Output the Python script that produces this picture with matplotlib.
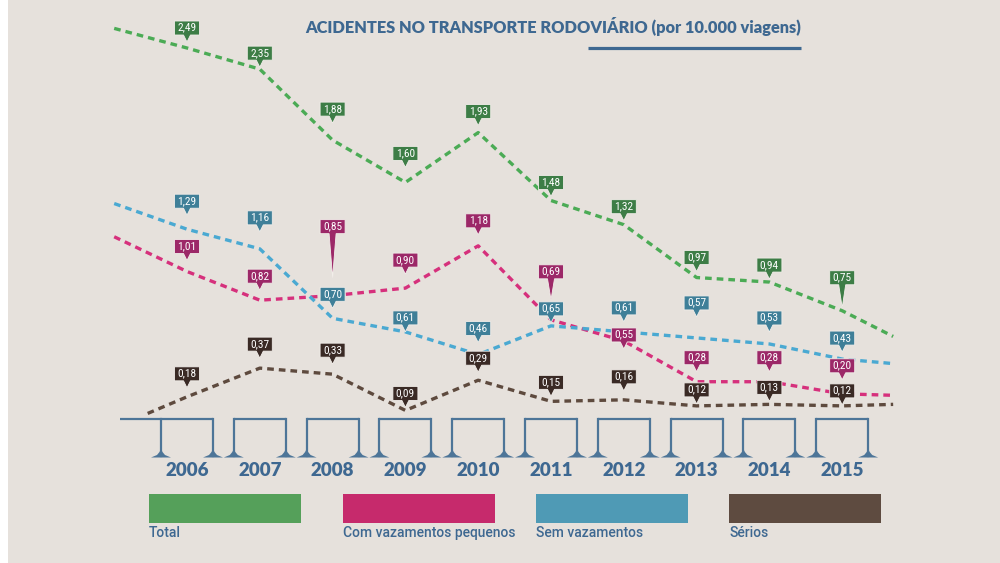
import matplotlib
matplotlib.use("Agg")
import matplotlib.pyplot as plt
from matplotlib import font_manager
from matplotlib.patches import Polygon, Rectangle
import matplotlib.transforms as mtransforms

# ---------------- data ----------------
years = [2006, 2007, 2008, 2009, 2010, 2011, 2012, 2013, 2014, 2015]
total = [2.49, 2.35, 1.88, 1.60, 1.93, 1.48, 1.32, 0.97, 0.94, 0.75]
com_vazamentos = [1.01, 0.82, 0.85, 0.90, 1.18, 0.69, 0.55, 0.28, 0.28, 0.20]
sem_vazamentos = [1.29, 1.16, 0.70, 0.61, 0.46, 0.65, 0.61, 0.57, 0.53, 0.43]
serios = [0.18, 0.37, 0.33, 0.09, 0.29, 0.15, 0.16, 0.12, 0.13, 0.12]
# decorative lead-in / lead-out values of the dashed lines
lead_in = [2.62, 1.24, 1.46, 0.07]
lead_out = [0.58, 0.19, 0.40, 0.13]
series_names = ["Total", "Com vazamentos pequenos", "Sem vazamentos", "Sérios"]
title = "ACIDENTES NO TRANSPORTE RODOVIÁRIO (por 10.000 viagens)"

# ---------------- style ----------------
def pick(*names):
    avail = {f.name for f in font_manager.fontManager.ttflist}
    for n in names:
        if n in avail:
            return n
    return "DejaVu Sans"

F_BOLD = pick("Lato", "Open Sans", "Roboto")
F_NARROW = pick("Liberation Sans Narrow", "Roboto Condensed", "Roboto", "Lato")
F_LEG = pick("Roboto", "Lato", "Open Sans")

BG = "#e6e1dc"
TXT = "#3e6891"
AXC = "#4d7598"
line_cols = ["#4bab55", "#d6307c", "#4aa9d2", "#5e4a3e"]
box_cols = ["#3d7d46", "#9c2868", "#3f7f98", "#3a2a25"]
leg_cols = ["#55a05a", "#c62a6c", "#4f9ab5", "#5e4b40"]

# label offsets (px, negative = upwards) of each pin box centre relative to the point
offsets = [
    [-20, -16, -31, -29, -21, -18, -18, -20, -17, -33],
    [-25, -24, -69, -28, -25, -48, -6, -24, -24, -28],
    [-28, -31, -24, -14, -26, -17, -24, -35, -26, -21],
    [-23, -24, -24, -17, -22, -19, -23, -16, -17, -15],
]
# long-stem pins: (series index, point index) -> tip offset (px)
long_tips = {(1, 2): -18, (1, 5): -20, (0, 9): -3}

W, H = 1000, 563
fig = plt.figure(figsize=(W / 100, H / 100), dpi=100)
fig.patch.set_facecolor(BG)
ax = fig.add_axes([0, 0, 1, 1])
ax.set_facecolor(BG)
ax.set_axis_off()
# pixel mapping: x = 187 + (year-2006)*72.8 ; y = 424 - 151*v
ax.set_xlim(2006 - 187 / 72.8, 2006 + 813 / 72.8)
ax.set_ylim((424 - 563) / 151, 424 / 151)

# white strip at the left edge
ax.add_patch(Rectangle((0, 0), 0.008, 1, transform=ax.transAxes,
                       facecolor="white", edgecolor="none", zorder=0.5))

# ---------------- lines ----------------
all_series = [total, com_vazamentos, sem_vazamentos, serios]
start_x = [2005.0, 2005.0, 2005.0, 2005.46]
end_x = 2015.7
for i, s in enumerate(all_series):
    xs = [start_x[i]] + years + [end_x]
    ys = [lead_in[i]] + s + [lead_out[i]]
    ax.plot(xs, ys, color=line_cols[i], lw=2.4, ls=(0, (2.0, 1.5)),
            dash_capstyle="butt", solid_joinstyle="round", zorder=2 + i * 0.01)

# ---------------- pins ----------------
PX = 0.01  # inch per pixel at 100 dpi
def draw_pin(x, v, off, color, text, tip=None, z=5):
    trans = fig.dpi_scale_trans + mtransforms.ScaledTranslation(x, v, ax.transData)
    bw, bh = 25, 14
    cy = -off
    top, bot = cy + bh / 2, cy - bh / 2
    if tip is None:
        tipy = bot - 7
    else:
        tipy = -tip
    hw = 3.5
    pts = [(-bw / 2, top), (bw / 2, top), (bw / 2, bot), (hw, bot), (0, tipy),
           (-hw, bot), (-bw / 2, bot)]
    pts = [(a * PX, b * PX) for a, b in pts]
    ax.add_patch(Polygon(pts, closed=True, transform=trans, facecolor=color,
                         edgecolor="#f2eeea", lw=0.6, zorder=z))
    ax.text(0, (cy + 0.3) * PX, text, transform=trans, ha="center", va="center",
            color="white", fontsize=8.2, family=F_NARROW, zorder=z + 0.1)

for i, s in enumerate(all_series):
    for j, v in enumerate(s):
        draw_pin(years[j], v, offsets[i][j], box_cols[i],
                 f"{v:.2f}".replace(".", ","), long_tips.get((i, j)), z=5 + i * 0.2)

# ---------------- axis decoration ----------------
bt = mtransforms.blended_transform_factory(ax.transData, ax.transAxes)
y_top = 1 - 419 / H
y_bot = 1 - 456 / H
half = 26 / 72.8
for k, yr in enumerate(years):
    left = yr - half if k > 0 else 2006 - 67 / 72.8
    ax.plot([left, yr + half], [y_top, y_top], color=AXC, lw=1.6, transform=bt,
            solid_capstyle="butt", zorder=3)
    for lx in (yr - half, yr + half):
        ax.plot([lx, lx], [y_top, y_bot], color=AXC, lw=1.6, transform=bt, zorder=3)
        ftrans = fig.dpi_scale_trans + mtransforms.ScaledTranslation(lx, y_bot, bt)
        foot = [(-10 * PX, -1.5 * PX), (10 * PX, -1.5 * PX), (4 * PX, 1 * PX),
                (1.5 * PX, 4 * PX), (0, 7 * PX), (-1.5 * PX, 4 * PX), (-4 * PX, 1 * PX)]
        ax.add_patch(Polygon(foot, closed=True, transform=ftrans, facecolor=AXC,
                             edgecolor="none", zorder=3))
    ax.text(yr, 1 - 470 / H, str(yr), transform=bt, ha="center", va="center",
            color=TXT, fontsize=13.5, fontweight="heavy", family=F_BOLD)

# ---------------- title ----------------
t = ax.text(553.5 / W, 1 - 27 / H, title, transform=ax.transAxes, ha="center",
            va="center", color=TXT, fontsize=13, fontweight="heavy", family=F_BOLD)
r = fig.canvas.get_renderer()
wpx = t.get_window_extent(renderer=r).width
t.set_fontsize(13 * 493 / wpx)
ax.plot([588 / W, 801 / W], [1 - 48 / H, 1 - 48 / H], color=TXT, lw=2.3,
        transform=ax.transAxes, solid_capstyle="butt")

# ---------------- legend ----------------
leg_x = [149, 343, 536, 729]
for k, name in enumerate(series_names):
    ax.add_patch(Rectangle((leg_x[k] / W, 1 - 523 / H), 152 / W, 29 / H,
                           transform=ax.transAxes, facecolor=leg_cols[k],
                           edgecolor="none", zorder=3))
    lt = ax.text(leg_x[k] / W, 1 - 533 / H, name, transform=ax.transAxes,
                 ha="left", va="center", color=TXT, fontsize=10, fontweight="medium",
                 family=F_LEG)
    if k == 1:
        lw_px = lt.get_window_extent(renderer=r).width
        leg_fs = 10 * 173 / lw_px

for tx in ax.texts:
    if tx.get_text() in series_names:
        tx.set_fontsize(leg_fs)

fig.savefig("out.png", dpi=100, facecolor=BG)
